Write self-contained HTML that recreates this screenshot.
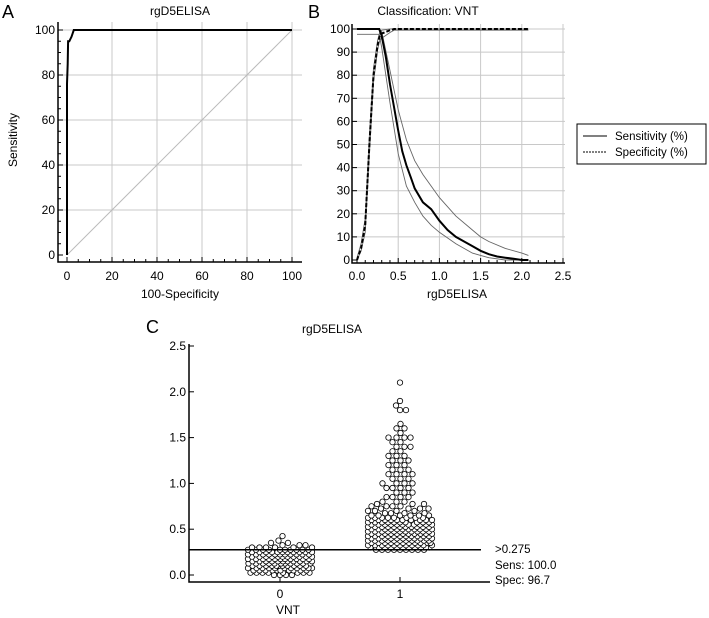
<!DOCTYPE html>
<html><head><meta charset="utf-8"><style>
html,body{margin:0;padding:0;background:#fff;}
svg{display:block;font-family:"Liberation Sans",Arial,sans-serif;}
</style></head><body>
<svg id="fig" width="709" height="618" viewBox="0 0 709 618" xmlns="http://www.w3.org/2000/svg">
<g id="pA"></g>
<g id="pB"></g>
<g id="pC"></g>
</svg>
<script>
// Panel A data
const rocX = [0,0,0.3,0.5,1,1.5,2,3,100];
const rocY = [0,76,85,95,95,96,97,100,100];
const aTicks = [0,20,40,60,80,100];
// Panel B data
const bTicksX = [0,0.5,1.0,1.5,2.0,2.5];
const bTicksY = [0,10,20,30,40,50,60,70,80,90,100];
const sensX = [0,0.27,0.3,0.35,0.4,0.45,0.5,0.55,0.6,0.65,0.7,0.8,0.9,1.0,1.1,1.2,1.3,1.4,1.5,1.6,1.7,1.8,1.9,2.0,2.08];
const sensY = [100,100,97,88,76,66,56,47,41,36,31,25,22,17,13,10,8,6,4,2.5,1.5,1,0.5,0,0];
const sensUpX = [0,0.27,0.3,0.4,0.5,0.6,0.7,0.8,0.9,1.0,1.2,1.4,1.5,1.6,1.8,2.0,2.08];
const sensUpY = [100,100,99,82,65,52,43,37,32,27,19,13,10,8,5,3,2];
const sensLoX = [0,0.27,0.3,0.4,0.5,0.6,0.7,0.8,0.9,1.0,1.2,1.4,1.5,1.6,1.8,2.08];
const sensLoY = [97.7,97.7,92,68,46,32,25,19,15,12,7,3,2,1,0,0];
const specX = [0,0.05,0.1,0.15,0.2,0.25,0.275,0.3,0.4,0.45,2.08];
const specY = [0,5,15,50,80,93,97,98,99.5,100,100];
const specUpY = [1,7,18,54,83,95,98.5,99.5,100,100,100];
const specLoY = [0,4,12,46,77,91,95,96,98.5,99.5,99.5];
// Panel C data
const cTicks = [0,0.5,1.0,1.5,2.0,2.5];
const g0Vals = [0,0.025,0.05,0.075,0.1,0.125,0.15,0.175,0.2,0.225,0.25,0.275,0.3,0.325,0.35,0.375,0.425];
const g0Counts = [4,8,10,11,11,11,11,11,11,11,11,10,6,3,2,1,1];
const g1Vals = [0.275,0.3,0.325,0.35,0.375,0.4,0.425,0.45,0.475,0.5,0.525,0.55,0.575,0.6,0.625,0.65,0.675,0.7,0.725,0.75,0.775,0.8,0.85,0.9,0.95,1.0,1.05,1.1,1.15,1.2,1.25,1.3,1.35,1.4,1.45,1.5,1.55,1.6,1.65,1.8,1.85,1.9,2.1];
const g1Counts = [9,11,11,11,11,11,11,11,11,11,11,11,10,10,8,6,4,4,4,4,3,3,4,3,4,4,3,4,3,3,3,3,2,3,2,4,1,2,1,2,1,1,1];
const cutoff = 0.275;

const NS="http://www.w3.org/2000/svg";
function mk(p,tag,at,txt){const e=document.createElementNS(NS,tag);for(const k in at)e.setAttribute(k,at[k]);if(txt!==undefined)e.textContent=txt;p.appendChild(e);return e;}
function path(xs,ys,fx,fy){return xs.map((x,i)=>(i?'L':'M')+fx(x).toFixed(1)+' '+fy(ys[i]).toFixed(1)).join(' ');}

// ---------- Panel A ----------
(function(){
const g=document.getElementById('pA');
const fx=v=>67+v*2.25, fy=v=>255-v*2.25;
let t=mk(g,'text',{x:2,y:18,'font-size':18},'A');


t=mk(g,'text',{x:180,y:15,'font-size':12,'text-anchor':'middle'},'rgD5ELISA');


aTicks.forEach(v=>{
  if(v>0){let l=mk(g,'line',{x1:fx(v),x2:fx(v),y1:22,y2:262,stroke:'#c8c8c8','stroke-width':1});
  
  }
  if(v>0){let l=mk(g,'line',{x1:58,x2:302,y1:fy(v),y2:fy(v),stroke:'#c8c8c8','stroke-width':1});
  
  }
  let tx=mk(g,'text',{x:fx(v),y:280,'font-size':12,'text-anchor':'middle'},String(v));
  
  
  let ty=mk(g,'text',{x:55,y:fy(v)+4,'font-size':12,'text-anchor':'end'},String(v));
  
  
});
for(let v=0;v<=100;v+=5){
  const L=v%20===0?5:3;
  mk(g,'line',{x1:fx(v),x2:fx(v),y1:262,y2:262-L,stroke:'#000'});
  mk(g,'line',{x1:58,x2:58+L,y1:fy(v),y2:fy(v),stroke:'#000'});
}
let d=mk(g,'line',{x1:fx(0),y1:fy(0),x2:fx(100),y2:fy(100),stroke:'#bbb','stroke-width':1});


mk(g,'path',{d:'M58 22 V262 H302',fill:'none',stroke:'#000','stroke-width':1.5});
let r=mk(g,'path',{d:path(rocX,rocY,fx,fy),fill:'none',stroke:'#000','stroke-width':2});


t=mk(g,'text',{x:180,y:298,'font-size':12,'text-anchor':'middle'},'100-Specificity');


t=mk(g,'text',{x:17,y:140,'font-size':12,'text-anchor':'middle',transform:'rotate(-90 17 140)'},'Sensitivity');


})();

// ---------- Panel B ----------
(function(){
const g=document.getElementById('pB');
const fx=v=>357+v*82.4, fy=v=>260-v*2.31;
let t=mk(g,'text',{x:308,y:18,'font-size':18},'B');


t=mk(g,'text',{x:428,y:15,'font-size':12,'text-anchor':'middle'},'Classification: VNT');


bTicksX.forEach(v=>{
  if(v>0){let l=mk(g,'line',{x1:fx(v),x2:fx(v),y1:24,y2:263,stroke:'#c8c8c8'});
  
  }
  let tx=mk(g,'text',{x:fx(v),y:280,'font-size':12,'text-anchor':'middle'},v.toFixed(1));
  
  
});
bTicksY.forEach(v=>{
  if(v>0){let l=mk(g,'line',{x1:352,x2:565,y1:fy(v),y2:fy(v),stroke:'#c8c8c8'});
  
  }
  let ty=mk(g,'text',{x:350,y:fy(v)+4,'font-size':12,'text-anchor':'end'},String(v));
  
  
  mk(g,'line',{x1:352,x2:357,y1:fy(v),y2:fy(v),stroke:'#000'});
});
for(let i=0;i<=25;i++){const v=i/10;mk(g,'line',{x1:fx(v),x2:fx(v),y1:263,y2:263-(i%5===0?5:3),stroke:'#000'});}
mk(g,'path',{d:'M352 24 V263 H565',fill:'none',stroke:'#000','stroke-width':1.5});
const thin={fill:'none',stroke:'#666','stroke-width':0.9};
let e;
e=mk(g,'path',Object.assign({d:path(sensUpX,sensUpY,fx,fy)},thin));


e=mk(g,'path',Object.assign({d:path(sensLoX,sensLoY,fx,fy)},thin));


e=mk(g,'path',Object.assign({d:path(specX,specUpY,fx,fy)},thin));


e=mk(g,'path',Object.assign({d:path(specX,specLoY,fx,fy)},thin));


e=mk(g,'path',{d:path(sensX,sensY,fx,fy),fill:'none',stroke:'#000','stroke-width':2});


e=mk(g,'path',{d:path(specX,specY,fx,fy),fill:'none',stroke:'#000','stroke-width':2,'stroke-dasharray':'4 2'});


t=mk(g,'text',{x:457,y:298,'font-size':12,'text-anchor':'middle'},'rgD5ELISA');


// legend
const lg=mk(g,'g',{});


mk(lg,'rect',{x:577,y:124,width:129,height:40,fill:'#fff',stroke:'#000','stroke-width':1});
mk(lg,'line',{x1:583,x2:607,y1:136,y2:136,stroke:'#000','stroke-width':1});
mk(lg,'line',{x1:583,x2:607,y1:152,y2:152,stroke:'#000','stroke-width':1,'stroke-dasharray':'2 1'});
t=mk(lg,'text',{x:615,y:140,'font-size':11.5},'Sensitivity (%)');


t=mk(lg,'text',{x:615,y:156,'font-size':11.5},'Specificity (%)');


})();

// ---------- Panel C ----------
(function(){
const g=document.getElementById('pC');
const fy=v=>575-v*91.6;
const cx=[280,400];
let t=mk(g,'text',{x:146,y:333,'font-size':18},'C');


t=mk(g,'text',{x:332,y:333,'font-size':12,'text-anchor':'middle'},'rgD5ELISA');


cTicks.forEach(v=>{
  mk(g,'line',{x1:189,x2:194,y1:fy(v),y2:fy(v),stroke:'#000'});
  let ty=mk(g,'text',{x:186,y:fy(v)+4,'font-size':12,'text-anchor':'end'},v.toFixed(1));
  
  
});
mk(g,'path',{d:'M189 344 V582 H490',fill:'none',stroke:'#000','stroke-width':1.5});
['0','1'].forEach((c,i)=>{
  mk(g,'line',{x1:cx[i],x2:cx[i],y1:582,y2:577,stroke:'#000'});
  let tx=mk(g,'text',{x:cx[i],y:598,'font-size':12,'text-anchor':'middle'},c);
  
  
});
const R=2.7, D=2*R+0.4, HALF=32;
function swarm(vals,counts,c,name){
  const gg=mk(g,'g',{});
  
  
  const placed=[];
  vals.forEach((v,i)=>{
    const y=fy(v);
    for(let k=0;k<counts[i];k++){
      let best=null,bestScore=-1;
      for(let s=0;s<=HALF;s+=0.5){
        for(const sg of (s===0?[1]:[1,-1])){
          const x=c+sg*s;
          let md=1e9;
          for(const p of placed){const dd=Math.hypot(p[0]-x,p[1]-y);if(dd<md)md=dd;}
          if(md>=D){best=x;bestScore=1e9;break;}
          if(md>bestScore){bestScore=md;best=x;}
        }
        if(bestScore===1e9)break;
      }
      placed.push([best,y]);
      const p=mk(gg,'circle',{cx:best.toFixed(1),cy:y.toFixed(1),r:R,fill:'#fff',stroke:'#000','stroke-width':0.8});
      
      
    }
  });
}
swarm(g0Vals,g0Counts,cx[0],'group-0-points');
swarm(g1Vals,g1Counts,cx[1],'group-1-points');
let l=mk(g,'line',{x1:189,x2:481,y1:fy(cutoff),y2:fy(cutoff),stroke:'#000','stroke-width':1.5});


t=mk(g,'text',{x:495,y:553,'font-size':11.5},'>'+cutoff);


t=mk(g,'text',{x:495,y:569,'font-size':11.5},'Sens: 100.0');


t=mk(g,'text',{x:495,y:584,'font-size':11.5},'Spec: 96.7');


t=mk(g,'text',{x:288,y:614,'font-size':12,'text-anchor':'middle'},'VNT');


})();
</script>
</body></html>
